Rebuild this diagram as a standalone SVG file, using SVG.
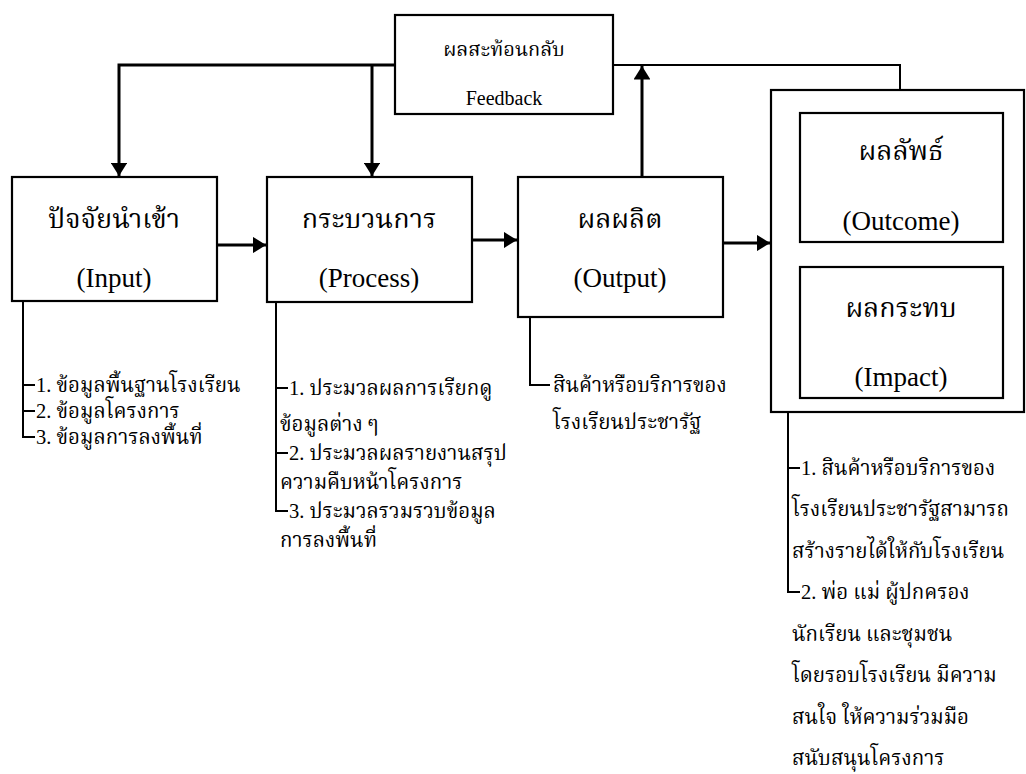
<svg xmlns="http://www.w3.org/2000/svg" width="1026" height="774" viewBox="0 0 1026 774">
<defs>
<marker id="ah" markerWidth="4.5" markerHeight="5.6" refX="4.5" refY="2.8" orient="auto" markerUnits="strokeWidth">
<path d="M0,0 L4.5,2.8 L0,5.6 Z" fill="#000"/>
</marker>
<style>
.box{fill:#fff;stroke:#000;stroke-width:2.2}
.t{font-family:"Liberation Serif","DejaVu Serif","Noto Serif Thai","Norasi",serif;fill:#000}
.h{font-size:27px;text-anchor:middle}
.fb{font-size:20px;text-anchor:middle}
.l{font-size:20.5px}
.c{fill:none;stroke:#000;stroke-width:3}
.thin{fill:none;stroke:#000;stroke-width:2}
</style>
</defs>
<rect width="1026" height="774" fill="#fff"/>
<g id="connectors">
<path class="c" d="M395,65 H119 V176" marker-end="url(#ah)"/>
<path class="c" d="M372,65 V176" marker-end="url(#ah)"/>
<path class="c" d="M642,177 V66" marker-end="url(#ah)"/>
<path class="thin" d="M613,65 H900 V90"/>
<path class="c" d="M217,245 H266" marker-end="url(#ah)"/>
<path class="c" d="M472,240 H517" marker-end="url(#ah)"/>
<path class="c" d="M723,243 H770" marker-end="url(#ah)"/>
<path class="thin" d="M23,301 V437 H35 M23,385 H35 M23,411 H35"/>
<path class="thin" d="M276,302 V511 H288 M276,388 H288 M276,453 H288"/>
<path class="thin" d="M530,317 V385 H550"/>
<path class="thin" d="M788,412 V592 H800 M788,468 H800"/>
</g>
<g id="feedback">
<rect class="box" x="395" y="15" width="218" height="99"/>
<text class="t fb" x="504" y="56">ผลสะท้อนกลับ</text>
<text class="t fb" x="504" y="105">Feedback</text>
</g>
<g id="input">
<rect class="box" x="12" y="177" width="205" height="124"/>
<text class="t h" x="114" y="228">ปัจจัยนำเข้า</text>
<text class="t h" x="114" y="287">(Input)</text>
</g>
<g id="process">
<rect class="box" x="267" y="177" width="205" height="125"/>
<text class="t h" x="369" y="228">กระบวนการ</text>
<text class="t h" x="369" y="287">(Process)</text>
</g>
<g id="output">
<rect class="box" x="518" y="177" width="205" height="140"/>
<text class="t h" x="620" y="228">ผลผลิต</text>
<text class="t h" x="620" y="287">(Output)</text>
</g>
<g id="result">
<rect class="box" x="771" y="90" width="253" height="322"/>
</g>
<g id="outcome">
<rect class="box" x="800" y="113" width="203" height="129"/>
<text class="t h" x="901" y="160">ผลลัพธ์</text>
<text class="t h" x="901" y="230">(Outcome)</text>
</g>
<g id="impact">
<rect class="box" x="800" y="267" width="203" height="131"/>
<text class="t h" x="901" y="317">ผลกระทบ</text>
<text class="t h" x="901" y="386">(Impact)</text>
</g>
<g id="input-list" class="t l">
<text x="36" y="392">1. ข้อมูลพื้นฐานโรงเรียน</text>
<text x="36" y="418">2. ข้อมูลโครงการ</text>
<text x="36" y="444">3. ข้อมูลการลงพื้นที่</text>
</g>
<g id="process-list" class="t l">
<text x="289" y="395">1. ประมวลผลการเรียกดู</text>
<text x="280" y="431">ข้อมูลต่าง ๆ</text>
<text x="289" y="460">2. ประมวลผลรายงานสรุป</text>
<text x="280" y="489">ความคืบหน้าโครงการ</text>
<text x="289" y="518">3. ประมวลรวมรวบข้อมูล</text>
<text x="280" y="547">การลงพื้นที่</text>
</g>
<g id="output-list" class="t l">
<text x="553" y="392">สินค้าหรือบริการของ</text>
<text x="553" y="429">โรงเรียนประชารัฐ</text>
</g>
<g id="impact-list" class="t l">
<text x="801" y="475">1. สินค้าหรือบริการของ</text>
<text x="792" y="516">โรงเรียนประชารัฐสามารถ</text>
<text x="792" y="558">สร้างรายได้ให้กับโรงเรียน</text>
<text x="801" y="599">2. พ่อ แม่ ผู้ปกครอง</text>
<text x="792" y="641">นักเรียน และชุมชน</text>
<text x="792" y="682">โดยรอบโรงเรียน มีความ</text>
<text x="792" y="724">สนใจ ให้ความร่วมมือ</text>
<text x="792" y="765">สนับสนุนโครงการ</text>
</g>
</svg>
